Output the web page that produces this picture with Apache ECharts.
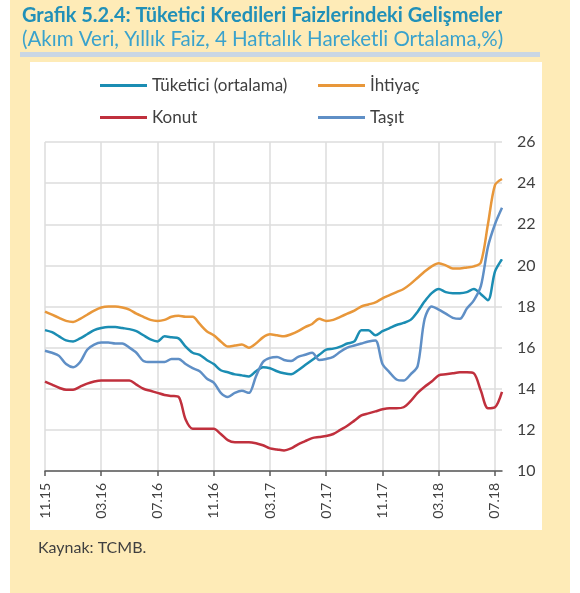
<!DOCTYPE html>
<html>
<head>
<meta charset="utf-8">
<script src="https://cdn.jsdelivr.net/npm/echarts@6/dist/echarts.min.js"></script>
<style>
  html, body { margin: 0; padding: 0; background: #ffffff; }
  #chart { width: 580px; height: 593px; }
</style>
</head>
<body>
<div id="chart"></div>
<script>
// half-month steps from 11.15 to mid 07.18
const startYear = 2015
const startMonth = 11
const stepsPerMonth = 2
const pointCount = 66

const tuketici = [
  16.85, 16.75, 16.55, 16.35, 16.3, 16.45, 16.65, 16.85, 16.95, 17.0,
  17.0, 16.95, 16.9, 16.8, 16.6, 16.4, 16.3, 16.55, 16.5, 16.45,
  16.05, 15.75, 15.65, 15.4, 15.2, 14.9, 14.8, 14.7, 14.65, 14.6,
  14.85, 15.05, 15.0, 14.85, 14.75, 14.7, 14.9, 15.15, 15.4, 15.65,
  15.9, 15.95, 16.05, 16.2, 16.3, 16.85, 16.85, 16.6, 16.8, 16.95,
  17.1, 17.2, 17.35, 17.75, 18.25, 18.65, 18.85, 18.7, 18.65, 18.65,
  18.7, 18.85, 18.6, 18.3, 19.7, 20.3
]
const ihtiyac = [
  17.75, 17.6, 17.45, 17.3, 17.25, 17.4, 17.6, 17.8, 17.95, 18.0,
  18.0, 17.95, 17.85, 17.65, 17.5, 17.35, 17.3, 17.35, 17.5, 17.55,
  17.5, 17.5, 17.15, 16.8, 16.6, 16.3, 16.05, 16.1, 16.15, 16.0,
  16.2, 16.5, 16.65, 16.6, 16.55, 16.65, 16.8, 17.0, 17.15, 17.4,
  17.3, 17.35, 17.5, 17.65, 17.8, 18.0, 18.1, 18.2, 18.4, 18.55,
  18.7, 18.85, 19.1, 19.4, 19.7, 19.95, 20.1, 20.0, 19.85, 19.85,
  19.9, 19.95, 20.15, 22.0, 23.9, 24.2
]
const konut = [
  14.35, 14.2, 14.05, 13.95, 13.95, 14.1, 14.25, 14.35, 14.4, 14.4,
  14.4, 14.4, 14.4, 14.2, 14.0, 13.9, 13.8, 13.7, 13.65, 13.6,
  12.5, 12.05, 12.05, 12.05, 12.05, 11.8, 11.5, 11.4, 11.4, 11.4,
  11.35, 11.25, 11.1, 11.05, 11.0, 11.1, 11.3, 11.45, 11.6, 11.65,
  11.7, 11.8, 12.0, 12.2, 12.45, 12.7, 12.8, 12.9, 13.0, 13.05,
  13.05, 13.1, 13.4, 13.8, 14.1, 14.35, 14.65, 14.7, 14.75, 14.8,
  14.8, 14.75, 13.9, 13.05, 13.1, 13.85
]
const tasit = [
  15.85, 15.75, 15.6, 15.2, 15.05, 15.3, 15.9, 16.15, 16.25, 16.25,
  16.2, 16.2, 16.0, 15.75, 15.35, 15.3, 15.3, 15.3, 15.45, 15.45,
  15.2, 15.0, 14.85, 14.5, 14.3, 13.8, 13.6, 13.8, 13.9, 13.8,
  14.6, 15.3, 15.5, 15.55, 15.4, 15.35, 15.55, 15.65, 15.75, 15.4,
  15.45, 15.55, 15.8, 16.0, 16.1, 16.2, 16.3, 16.35, 15.2, 14.8,
  14.45, 14.4, 14.7, 15.1, 17.4, 18.0, 17.85, 17.65, 17.45, 17.4,
  17.9, 18.3, 19.0, 20.9, 22.0, 22.8
]

const seriesNames = ['Tüketici (ortalama)', 'İhtiyaç', 'Konut', 'Taşıt']
const seriesColors = ['#1b8db3', '#e8973a', '#c0303d', '#5f8fc6']

const categories = []
for (let i = 0; i < pointCount; i++) {
  const m = startMonth - 1 + Math.floor(i / stepsPerMonth)
  const mm = (m % 12) + 1
  const yy = (startYear + Math.floor(m / 12)) % 100
  categories.push(String(mm).padStart(2, '0') + '.' + String(yy).padStart(2, '0'))
}

const font = 'Lato, "Open Sans", sans-serif'
const txt = '#404040'

const myChart = echarts.init(document.getElementById('chart'))

const legendAt = (name, left, top) => ({
  data: [name],
  left: left,
  top: top,
  icon: 'rect',
  itemWidth: 47,
  itemHeight: 3,
  itemGap: 4,
  textStyle: { fontFamily: font, fontSize: 17, color: txt }
})

const option = {
  animation: false,
  backgroundColor: '#ffffff',
  graphic: [
    { type: 'rect', z: -10, shape: { x: 10, y: 0, width: 560, height: 593 }, style: { fill: '#feebb7' } },
    { type: 'rect', z: -9, shape: { x: 30, y: 62, width: 512, height: 468 }, style: { fill: '#ffffff' } },
    { type: 'rect', z: -9, shape: { x: 20, y: 52, width: 520, height: 5 }, style: { fill: '#c9d6e4' } },
    { type: 'text', left: 38, top: 540, style: { text: 'Kaynak: TCMB.', fontFamily: font, fontSize: 16, fill: txt } }
  ],
  title: {
    text: 'Grafik 5.2.4: Tüketici Kredileri Faizlerindeki Gelişmeler',
    subtext: '(Akım Veri, Yıllık Faiz, 4 Haftalık Hareketli Ortalama,%)',
    left: 17,
    top: 0,
    itemGap: 1,
    textStyle: { fontFamily: font, fontSize: 20, lineHeight: 22, fontWeight: 'bold', color: '#2190b8' },
    subtextStyle: { fontFamily: font, fontSize: 20.5, lineHeight: 22, color: '#3aa2cc' }
  },
  legend: [
    legendAt(seriesNames[0], 95, 72),
    legendAt(seriesNames[1], 313, 72),
    legendAt(seriesNames[2], 95, 104),
    legendAt(seriesNames[3], 313, 104)
  ],
  grid: { left: 45, right: 78, top: 142, bottom: 122 },
  xAxis: {
    type: 'category',
    data: categories,
    boundaryGap: false,
    axisLine: { lineStyle: { color: '#595959', width: 1.5 } },
    axisTick: { show: true, interval: 7, length: 5, lineStyle: { color: '#595959', width: 1.5 } },
    axisLabel: { interval: 7, rotate: 90, margin: 12, fontFamily: font, fontSize: 14, color: txt },
    splitLine: { show: true, interval: 7, lineStyle: { color: '#dcdcdc', width: 1.5 } }
  },
  yAxis: {
    type: 'value',
    position: 'right',
    min: 10,
    max: 26,
    interval: 2,
    axisLine: { show: false },
    axisTick: { show: false },
    axisLabel: { margin: 15, fontFamily: font, fontSize: 16, color: txt },
    splitLine: { lineStyle: { color: '#dcdcdc', width: 1.5 } }
  },
  series: [tuketici, ihtiyac, konut, tasit].map((d, k) => ({
    name: seriesNames[k],
    type: 'line',
    data: d,
    smooth: 0.3,
    showSymbol: false,
    color: seriesColors[k],
    lineStyle: { width: 2.5, color: seriesColors[k] }
  }))
}

myChart.setOption(option)
</script>
</body>
</html>
